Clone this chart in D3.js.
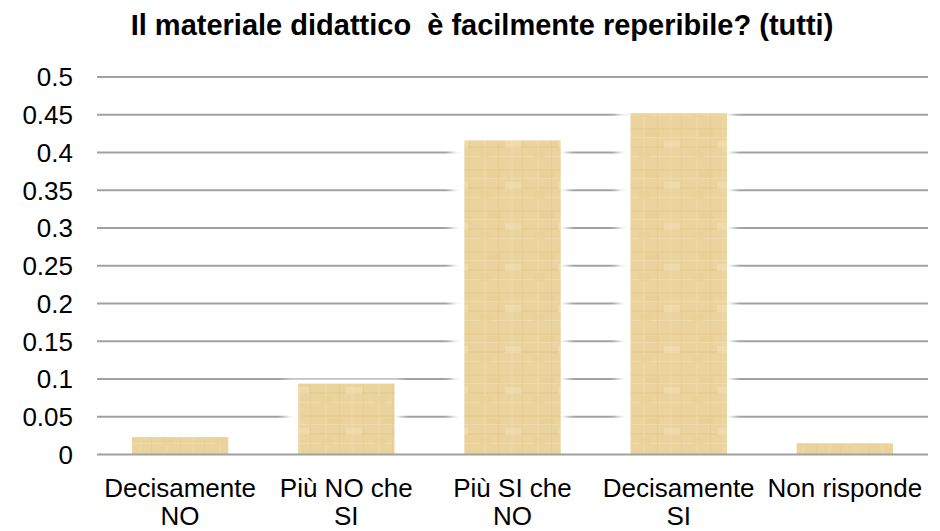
<!DOCTYPE html>
<html><head><meta charset="utf-8">
<script src="https://cdn.jsdelivr.net/npm/d3@7"></script>
<style>
html,body{margin:0;padding:0;background:#fff;}
svg{display:block;font-family:"Liberation Sans",Arial,sans-serif;}
</style></head>
<body><svg id="c" width="940" height="531"></svg>
<script>
const title = "Il materiale didattico  è facilmente reperibile? (tutti)";
const categories = [["Decisamente","NO"],["Più NO che","SI"],["Più SI che","NO"],["Decisamente","SI"],["Non risponde"]];
const values = [0.023, 0.094, 0.416, 0.452, 0.015];
const yTicks = [0,0.05,0.1,0.15,0.2,0.25,0.3,0.35,0.4,0.45,0.5];

const svg = d3.select("#c");
const m = {left:97, right:12, top:77, bottom:76.5};
const W = 940, H = 531;
const x = d3.scaleBand().domain(d3.range(categories.length)).range([m.left, W-m.right]).paddingInner(0.42).paddingOuter(0.21);
const y = d3.scaleLinear().domain([0,0.5]).range([H-m.bottom, m.top]);

const defs = svg.append("defs");
const f = defs.append("filter").attr("id","glow").attr("x","-50%").attr("y","-50%").attr("width","200%").attr("height","200%");
f.append("feGaussianBlur").attr("stdDeviation",4);

// parchment pattern
const pat = defs.append("pattern").attr("id","parch").attr("patternUnits","userSpaceOnUse").attr("width",53).attr("height",41);
pat.append("rect").attr("width",53).attr("height",41).attr("fill","#EAD39C");
const ptex = [[0,5,53,2,"#E3C98C",0.5],[0,14,53,1,"#F1DEB0",0.7],[0,23,53,2,"#DFC487",0.4],[0,33,53,1,"#F2E1B4",0.6],
              [7,0,2,41,"#F0DCAA",0.5],[21,0,1,41,"#DDC285",0.35],[33,0,3,41,"#EFDAA6",0.45],[45,0,1,41,"#E0C58A",0.4],
              [10,8,14,6,"#E6CD8F",0.5],[28,18,16,7,"#F3E2B8",0.5],[3,27,12,8,"#E8D294",0.5]];
ptex.forEach(d=>pat.append("rect").attr("x",d[0]).attr("y",d[1]).attr("width",d[2]).attr("height",d[3]).attr("fill",d[4]).attr("opacity",d[5]));

// title
svg.append("text").attr("x",482).attr("y",34.5).attr("text-anchor","middle")
  .style("font-weight","bold").style("font-size","29px").style("white-space","pre").attr("fill","#000").text(title);

// gridlines
svg.append("g").selectAll("line").data(yTicks.filter(d=>d>0)).join("line")
  .attr("x1",m.left).attr("x2",W-m.right).attr("y1",d=>y(d)).attr("y2",d=>y(d))
  .attr("stroke","#A0A0A0").attr("stroke-width",2);

// y labels
svg.append("g").selectAll("text").data(yTicks).join("text")
  .attr("x",73).attr("y",d=>y(d)).attr("dy","0.36em").attr("text-anchor","end")
  .style("font-size","26px").attr("fill","#000").text(d=>String(+d.toFixed(2)));

// glow behind bars
svg.append("g").selectAll("rect").data(values).join("rect")
  .attr("x",(d,i)=>x(i)-13).attr("width",x.bandwidth()+20)
  .attr("y",d=>y(d)-4).attr("height",d=>y(0)-y(d)+4)
  .attr("fill","#fff").attr("filter","url(#glow)");

// bars
svg.append("g").selectAll("rect").data(values).join("rect")
  .attr("x",(d,i)=>x(i)).attr("width",x.bandwidth())
  .attr("y",d=>y(d)).attr("height",d=>y(0)-y(d))
  .attr("fill","url(#parch)");

// baseline
svg.append("line").attr("x1",m.left).attr("x2",W-m.right).attr("y1",y(0)).attr("y2",y(0))
  .attr("stroke","#A0A0A0").attr("stroke-width",2);

// x labels
const xl = svg.append("g").selectAll("text").data(categories).join("text")
  .attr("x",(d,i)=>x(i)+x.bandwidth()/2).attr("y",497).attr("text-anchor","middle")
  .style("font-size","26px").attr("fill","#000");
xl.selectAll("tspan").data(d=>d).join("tspan")
  .attr("x",function(){return this.parentNode.getAttribute("x");})
  .attr("dy",(d,i)=>i===0?0:28).text(d=>d);
</script></body></html>
